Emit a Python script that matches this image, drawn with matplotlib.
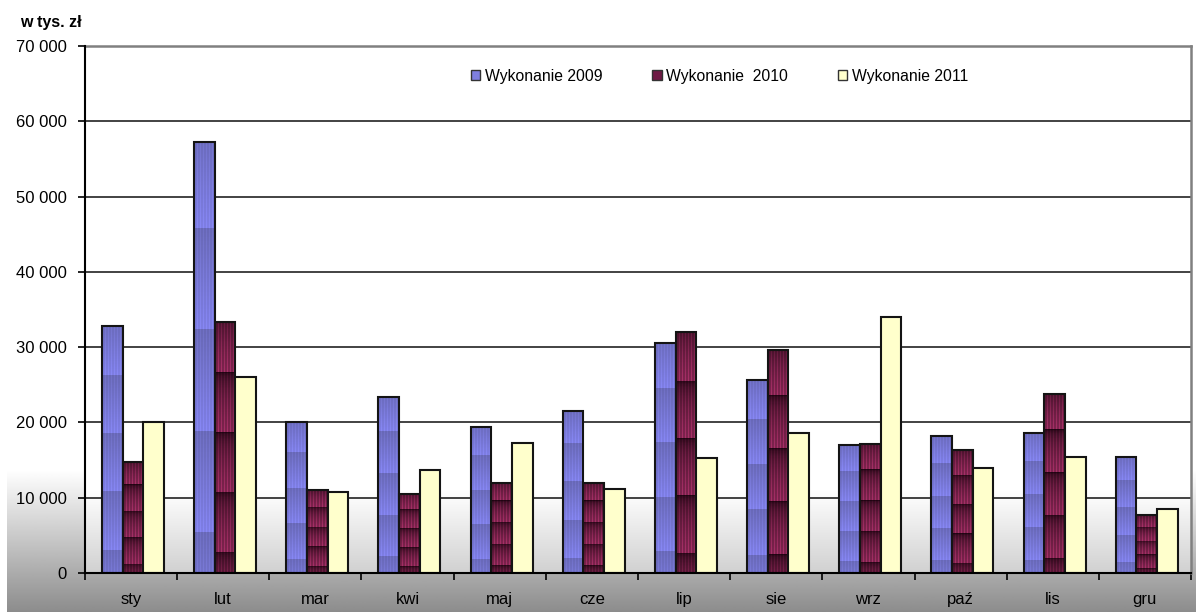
import numpy as np
import matplotlib
matplotlib.use("Agg")
import matplotlib.pyplot as plt
from matplotlib.patches import Patch

plt.rcParams["font.family"] = ["Liberation Sans", "DejaVu Sans"]

months = ["sty", "lut", "mar", "kwi", "maj", "cze", "lip", "sie", "wrz", "paź", "lis", "gru"]
series_names = ["Wykonanie 2009", "Wykonanie  2010", "Wykonanie 2011"]
vals_2009 = [32800, 57200, 20000, 23400, 19400, 21500, 30600, 25600, 16950, 18150, 18550, 15400]
vals_2010 = [14700, 33400, 11000, 10500, 12000, 12000, 32000, 29600, 17200, 16300, 23800, 7700]
vals_2011 = [20000, 26000, 10700, 13700, 17300, 11100, 15300, 18550, 34000, 13900, 15400, 8500]
y_ticks = [0, 10000, 20000, 30000, 40000, 50000, 60000, 70000]


def texture(dark, light, n_bands, gamma, stripe=0.9, rows=400, cols=14):
    # banded vertical gradient (dark at band top) with thin vertical stripes
    t = np.linspace(0, 1, rows)
    p = (t * n_bands + 0.15) % 1.0
    shade = p ** gamma
    dark = np.array(dark) / 255.0
    light = np.array(light) / 255.0
    col = dark[None, :] + (light - dark)[None, :] * shade[:, None]
    img = np.repeat(col[:, None, :], cols, axis=1)
    fac = np.where(np.arange(cols) % 2 == 0, 1.0, stripe)
    return np.clip(img * fac[None, :, None], 0, 1)


tex_2009 = texture((112, 112, 196), (136, 136, 246), 4.25, 1.0, stripe=0.93)
tex_2010 = texture((30, 2, 16), (168, 48, 104), 4.2, 0.4, stripe=0.75)

fig = plt.figure(figsize=(11.96, 6.12), dpi=100)

# figure background gradient (white -> gray at bottom)
bg = fig.add_axes([0, 0, 1, 1], zorder=-10)
yy = np.linspace(0, 612, 613)
g = np.where(yy < 470, 1.0, 1.0 - 0.45 * (yy - 470) / 142)
bg_img = np.repeat(g[:, None], 2, axis=1)
bg.imshow(bg_img, cmap="gray", vmin=0, vmax=1, aspect="auto",
          extent=(7 / 1196, 1, 0, 1), interpolation="bilinear")
bg.set_xlim(0, 1)
bg.set_ylim(0, 1)
bg.axis("off")

ax = fig.add_axes([85 / 1196, 1 - 573 / 612, 1106 / 1196, 527 / 612])
ax.set_facecolor("none")

# plot-area gradient in the lower part
pa = np.linspace(0, 70000, 300)
pg = np.where(pa > 11000, 1.0, 0.82 + 0.18 * pa / 11000)
ax.imshow(np.repeat(pg[::-1, None], 2, axis=1), cmap="gray", vmin=0, vmax=1,
          aspect="auto", extent=(-0.5, 11.5, 0, 70000), zorder=0,
          interpolation="bilinear")

x = np.arange(len(months))
w = 0.224
shift = 0.02
edge = "#141414"
for i in range(len(months)):
    for k, (vals, tex) in enumerate([(vals_2009, tex_2009), (vals_2010, tex_2010)]):
        x0 = x[i] + shift + (k - 1) * w - w / 2
        ax.imshow(tex, aspect="auto", extent=(x0, x0 + w, 0, vals[i]),
                  interpolation="nearest", zorder=3)
        ax.bar(x0, vals[i], width=w, align="edge", facecolor="none",
               edgecolor=edge, linewidth=1.5, zorder=4)
    x0 = x[i] + shift + w - w / 2
    ax.bar(x0, vals_2011[i], width=w, align="edge", facecolor="#FFFFCC",
           edgecolor=edge, linewidth=1.5, zorder=4)

ax.set_xlim(-0.5, 11.5)
ax.set_ylim(0, 70000)

for v in y_ticks[1:-1]:
    ax.axhline(v, color="#222222", linewidth=1.2, zorder=1)

ax.set_yticks(y_ticks)
ax.set_yticklabels([f"{v:,}".replace(",", " ") for v in y_ticks], fontsize=12)
ax.set_xticks(np.arange(-0.5, 12, 1), minor=False)
ax.set_xticklabels([])
ax.set_xticks(x, minor=True)
ax.set_xticklabels(months, minor=True, fontsize=12)
ax.tick_params(axis="x", which="minor", length=0, pad=14)
ax.tick_params(axis="x", which="major", length=5, width=1.2, direction="out")
ax.tick_params(axis="y", length=5, width=1.2, direction="out", pad=8)

for side in ["left", "bottom"]:
    ax.spines[side].set_color("black")
    ax.spines[side].set_linewidth(1.5)
    ax.spines[side].set_zorder(6)
for side in ["top", "right"]:
    ax.spines[side].set_color("#808080")
    ax.spines[side].set_linewidth(1.8)

handles = [
    Patch(facecolor="#7f7fe0", edgecolor="#333333", linewidth=1.0),
    Patch(facecolor="#6e1a44", edgecolor="#333333", linewidth=1.0),
    Patch(facecolor="#FFFFCC", edgecolor="#333333", linewidth=1.0),
]
ax.legend(handles, series_names, ncol=3, loc="center left",
          bbox_to_anchor=(0.336, 0.943), frameon=False, fontsize=11.3,
          handlelength=0.58, handleheight=0.58, handletextpad=0.3,
          columnspacing=3.2)

fig.text(20 / 1196, 1 - 22 / 612, "w tys. zł", fontsize=11.5, fontweight="bold",
         va="center", ha="left")

fig.savefig("out.png", dpi=100)
